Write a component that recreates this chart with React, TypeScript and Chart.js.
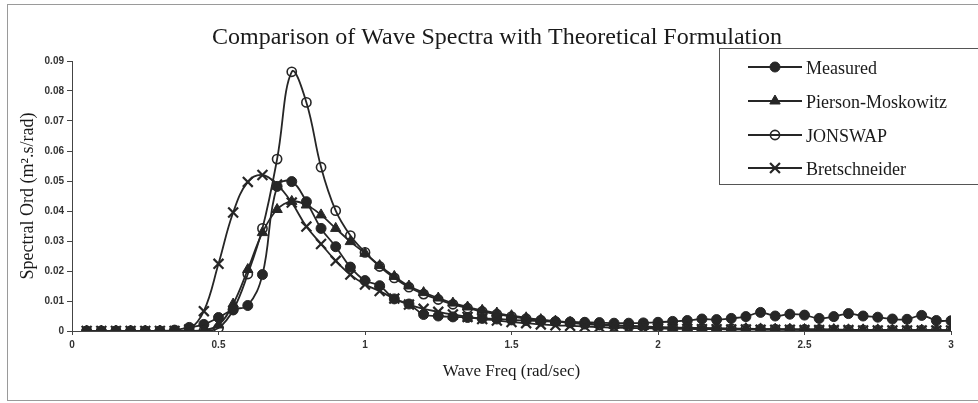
import React, { useEffect, useRef } from "react";
import { Chart, registerables } from "chart.js";

Chart.register(...registerables);

const TITLE = "Comparison of Wave Spectra with Theoretical Formulation";
const X_TITLE = "Wave Freq (rad/sec)";
const Y_TITLE = "Spectral Ord (m².s/rad)";

const seriesNames = ["Measured", "Pierson-Moskowitz", "JONSWAP", "Bretschneider"];

const freqs = [
  0.05, 0.1, 0.15, 0.2, 0.25, 0.3, 0.35, 0.4, 0.45, 0.5,
  0.55, 0.6, 0.65, 0.7, 0.75, 0.8, 0.85, 0.9, 0.95, 1.0,
  1.05, 1.1, 1.15, 1.2, 1.25, 1.3, 1.35, 1.4, 1.45, 1.5,
  1.55, 1.6, 1.65, 1.7, 1.75, 1.8, 1.85, 1.9, 1.95, 2.0,
  2.05, 2.1, 2.15, 2.2, 2.25, 2.3, 2.35, 2.4, 2.45, 2.5,
  2.55, 2.6, 2.65, 2.7, 2.75, 2.8, 2.85, 2.9, 2.95, 3.0,
];

const measured = [
  0, 0, 0, 0, 0, 0, 0.0003, 0.0012, 0.0022, 0.0045,
  0.0072, 0.0085, 0.0188, 0.0482, 0.0498, 0.0431, 0.0342, 0.0281, 0.0213, 0.0168,
  0.0151, 0.0107, 0.009, 0.0055, 0.005, 0.0047, 0.0045, 0.0042, 0.004, 0.0037,
  0.0035, 0.0033, 0.0031, 0.003, 0.0029, 0.0028, 0.0026, 0.0026, 0.0027, 0.0029,
  0.0032, 0.0035, 0.004, 0.0038, 0.0042, 0.0048, 0.0062, 0.005, 0.0056, 0.0053,
  0.0042, 0.0048, 0.0058, 0.005, 0.0046, 0.004, 0.0039, 0.0052, 0.0035, 0.0034,
];

const piersonMoskowitz = [
  0, 0, 0, 0, 0, 0, 0, 0, 0.0003, 0.002,
  0.009, 0.0205, 0.0328, 0.0405, 0.0432, 0.042, 0.0387, 0.0342, 0.0298, 0.0259,
  0.0218, 0.0182, 0.015, 0.0128, 0.011, 0.0093, 0.008, 0.0069, 0.006, 0.0051,
  0.0044, 0.0038, 0.0033, 0.0029, 0.0025, 0.0022, 0.0019, 0.0017, 0.0015, 0.0013,
  0.0012, 0.0011, 0.001, 0.0009, 0.0008, 0.0008, 0.0007, 0.0006, 0.0006, 0.0005,
  0.0005, 0.0005, 0.0004, 0.0004, 0.0004, 0.0003, 0.0003, 0.0003, 0.0003, 0.0003,
];

const jonswap = [
  0, 0, 0, 0, 0, 0, 0, 0, 0, 0.001,
  0.007, 0.019, 0.0342, 0.0573, 0.0864, 0.0762, 0.0546, 0.0401, 0.0318, 0.0262,
  0.0215, 0.0177, 0.0146, 0.0123, 0.0105, 0.0089, 0.0076, 0.0065, 0.0056, 0.0048,
  0.0041, 0.0036, 0.0031, 0.0027, 0.0023, 0.002, 0.0018, 0.0016, 0.0014, 0.0012,
  0.0011, 0.001, 0.0009, 0.0008, 0.0008, 0.0007, 0.0006, 0.0006, 0.0005, 0.0005,
  0.0005, 0.0004, 0.0004, 0.0004, 0.0003, 0.0003, 0.0003, 0.0003, 0.0003, 0.0002,
];

const bretschneider = [
  0, 0, 0, 0, 0, 0, 0, 0.0005, 0.0066, 0.0224,
  0.0395, 0.0497, 0.052, 0.0488, 0.0428, 0.0348, 0.029, 0.0234, 0.0188, 0.0155,
  0.0133, 0.0108, 0.0088, 0.0074, 0.0064, 0.0055, 0.0047, 0.004, 0.0035, 0.003,
  0.0026, 0.0022, 0.0019, 0.0017, 0.0015, 0.0013, 0.0011, 0.001, 0.0009, 0.0008,
  0.0007, 0.0007, 0.0006, 0.0006, 0.0005, 0.0005, 0.0004, 0.0004, 0.0004, 0.0003,
  0.0003, 0.0003, 0.0003, 0.0002, 0.0002, 0.0002, 0.0002, 0.0002, 0.0002, 0.0002,
];

const xMin = 0;
const xMax = 3;
const xStep = 0.5;
const yMax = 0.09;
const yStep = 0.01;

const INK = "#262626";
const SERIF = "'Liberation Serif', 'Times New Roman', serif";
const SANS = "'Liberation Sans', Arial, sans-serif";

type Sty = { pointStyle: string; radius: number; fill: string; bw: number };
const styles: Sty[] = [
  { pointStyle: "circle", radius: 5, fill: INK, bw: 1 },
  { pointStyle: "triangle", radius: 6, fill: INK, bw: 1 },
  { pointStyle: "circle", radius: 4.6, fill: "rgba(0,0,0,0)", bw: 1.6 },
  { pointStyle: "crossRot", radius: 7, fill: INK, bw: 2.2 },
];

function drawMarker(ctx: CanvasRenderingContext2D, kind: number, x: number, y: number) {
  const s = styles[kind];
  ctx.save();
  ctx.strokeStyle = INK;
  ctx.fillStyle = s.fill;
  ctx.lineWidth = s.bw;
  ctx.beginPath();
  if (s.pointStyle === "circle") {
    ctx.arc(x, y, s.radius, 0, Math.PI * 2);
    if (kind !== 2) ctx.fill();
    ctx.stroke();
  } else if (s.pointStyle === "triangle") {
    const r = s.radius;
    ctx.moveTo(x, y - r);
    ctx.lineTo(x + r * 0.866, y + r * 0.5);
    ctx.lineTo(x - r * 0.866, y + r * 0.5);
    ctx.closePath();
    ctx.fill();
    ctx.stroke();
  } else {
    const d = s.radius * 0.7071;
    ctx.moveTo(x - d, y - d);
    ctx.lineTo(x + d, y + d);
    ctx.moveTo(x + d, y - d);
    ctx.lineTo(x - d, y + d);
    ctx.stroke();
  }
  ctx.restore();
}

const decorPlugin = {
  id: "decor",
  beforeDraw(chart: any) {
    const ctx = chart.ctx as CanvasRenderingContext2D;
    ctx.save();
    ctx.fillStyle = "#ffffff";
    ctx.fillRect(0, 0, chart.width, chart.height);
    ctx.strokeStyle = "#9a9a9a";
    ctx.lineWidth = 1;
    ctx.strokeRect(7.5, 4.5, 990, 396);
    ctx.restore();
  },
  afterDraw(chart: any) {
    const ctx = chart.ctx as CanvasRenderingContext2D;
    ctx.save();
    ctx.fillStyle = "#1a1a1a";
    ctx.font = `24px ${SERIF}`;
    ctx.textAlign = "center";
    ctx.textBaseline = "alphabetic";
    ctx.fillText(TITLE, 497, 44);
    ctx.fillStyle = "#ffffff";
    ctx.fillRect(719.5, 48.5, 262, 136);
    ctx.strokeStyle = "#555";
    ctx.lineWidth = 1;
    ctx.strokeRect(719.5, 48.5, 262, 136);
    const rows = [67, 101, 135, 168];
    seriesNames.forEach((name, i) => {
      const y = rows[i];
      ctx.strokeStyle = INK;
      ctx.lineWidth = 2;
      ctx.beginPath();
      ctx.moveTo(748, y);
      ctx.lineTo(802, y);
      ctx.stroke();
      drawMarker(ctx, i, 775, y);
      ctx.fillStyle = "#1a1a1a";
      ctx.font = `18px ${SERIF}`;
      ctx.textAlign = "left";
      ctx.textBaseline = "alphabetic";
      ctx.fillText(name, 806, y + 6.5);
    });
    ctx.restore();
  },
};

export default function App() {
  const ref = useRef<HTMLCanvasElement>(null);
  useEffect(() => {
    if (!ref.current) return;
    const all = [measured, piersonMoskowitz, jonswap, bretschneider];
    const chart = new Chart(ref.current, {
      type: "line",
      data: {
        datasets: all.map((vals, i) => ({
          label: seriesNames[i],
          data: freqs.map((f, j) => ({ x: f, y: vals[j] })),
          borderColor: INK,
          borderWidth: 1.8,
          tension: 0.4,
          fill: false,
          pointStyle: styles[i].pointStyle as any,
          pointRadius: styles[i].radius,
          pointBackgroundColor: styles[i].fill,
          pointBorderColor: INK,
          pointBorderWidth: styles[i].bw,
          order: 3 - i,
        })),
      },
      options: {
        responsive: false,
        animation: false,
        events: [],
        layout: { padding: { top: 61, right: 27, bottom: 0, left: 0 } },
        plugins: {
          legend: { display: false },
          title: { display: false },
          tooltip: { enabled: false },
        },
        scales: {
          x: {
            type: "linear",
            min: xMin,
            max: xMax,
            afterFit: (s: any) => {
              s.height = 72;
            },
            ticks: {
              stepSize: xStep,
              font: { family: SANS, size: 10, weight: "bold" },
              color: "#333",
              padding: 4,
              maxRotation: 0,
              callback: (v: any) => String(Number(v)),
            },
            grid: { drawOnChartArea: false, tickLength: 4, color: "#444" },
            border: { display: true, color: "#444", width: 1 },
            title: {
              display: true,
              text: X_TITLE,
              font: { family: SERIF, size: 17 },
              color: "#1a1a1a",
              padding: { top: 0, bottom: 21 },
            },
          },
          y: {
            type: "linear",
            min: 0,
            max: yMax,
            ticks: {
              stepSize: yStep,
              font: { family: SANS, size: 10, weight: "bold" },
              color: "#333",
              padding: 3,
              callback: (v: any) => String(Math.round(Number(v) * 100) / 100),
            },
            afterFit: (s: any) => {
              s.width = 72;
            },
            grid: { drawOnChartArea: false, tickLength: 5, color: "#444" },
            border: { display: true, color: "#444", width: 1 },
            title: {
              display: true,
              text: Y_TITLE,
              font: { family: SERIF, size: 18 },
              color: "#1a1a1a",
              padding: { top: 17, bottom: 0 },
            },
          },
        },
      },
      plugins: [decorPlugin],
    });
    return () => chart.destroy();
  }, []);
  return (
    <div style={{ position: "fixed", left: 0, top: 0, width: 978, height: 403, background: "#fff" }}>
      <canvas ref={ref} width={978} height={403} style={{ display: "block" }} />
    </div>
  );
}
